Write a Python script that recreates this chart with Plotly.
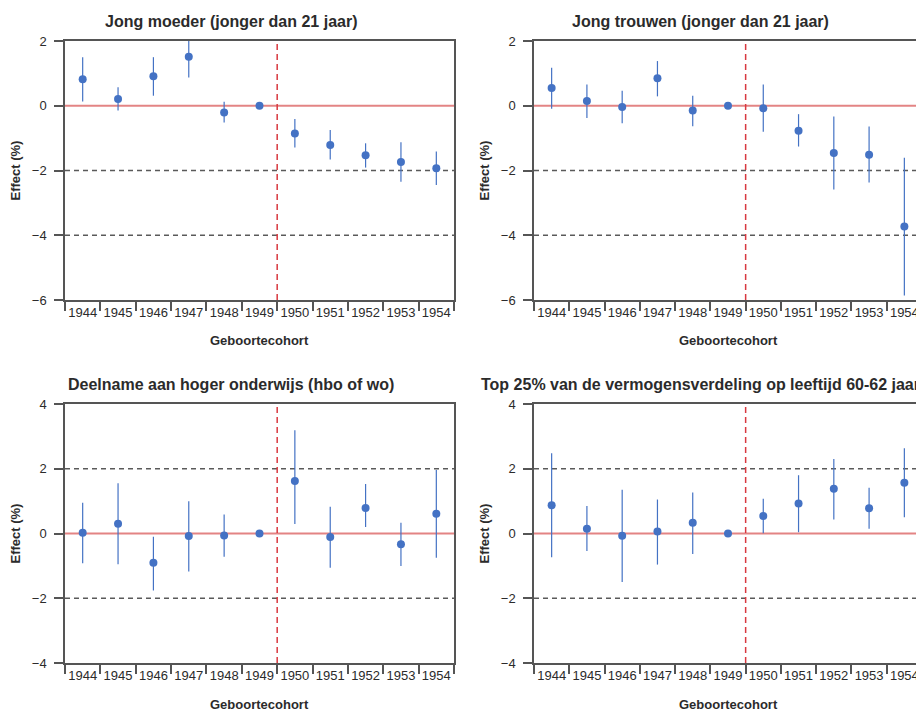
import plotly.graph_objects as go

# ---------------- data ----------------
cohorts = ["1944", "1945", "1946", "1947", "1948", "1949", "1950", "1951", "1952", "1953", "1954"]

titles = [
    "Jong moeder (jonger dan 21 jaar)",
    "Jong trouwen (jonger dan 21 jaar)",
    "Deelname aan hoger onderwijs (hbo of wo)",
    "Top 25% van de vermogensverdeling op leeftijd 60-62 jaar",
]

# Panel 1: Jong moeder
moeder_est = [0.82, 0.21, 0.91, 1.51, -0.21, 0.0, -0.86, -1.21, -1.53, -1.74, -1.93]
moeder_lo = [0.13, -0.15, 0.31, 0.87, -0.52, 0.0, -1.29, -1.66, -1.91, -2.35, -2.45]
moeder_hi = [1.50, 0.57, 1.50, 2.15, 0.12, 0.0, -0.41, -0.75, -1.16, -1.13, -1.41]

# Panel 2: Jong trouwen
trouwen_est = [0.55, 0.15, -0.04, 0.85, -0.15, 0.0, -0.08, -0.77, -1.46, -1.51, -3.73]
trouwen_lo = [-0.09, -0.38, -0.54, 0.29, -0.63, 0.0, -0.80, -1.26, -2.59, -2.37, -5.86]
trouwen_hi = [1.17, 0.66, 0.46, 1.38, 0.31, 0.0, 0.66, -0.26, -0.33, -0.64, -1.61]

# Panel 3: Hoger onderwijs
onderwijs_est = [0.02, 0.30, -0.90, -0.08, -0.06, 0.0, 1.62, -0.11, 0.79, -0.33, 0.61]
onderwijs_lo = [-0.92, -0.95, -1.76, -1.17, -0.72, 0.0, 0.29, -1.06, 0.20, -1.00, -0.75]
onderwijs_hi = [0.95, 1.55, -0.10, 1.00, 0.59, 0.0, 3.19, 0.83, 1.53, 0.33, 1.96]

# Panel 4: Vermogen top 25%
vermogen_est = [0.87, 0.15, -0.07, 0.06, 0.33, 0.0, 0.54, 0.93, 1.38, 0.78, 1.57]
vermogen_lo = [-0.73, -0.54, -1.50, -0.96, -0.63, 0.0, 0.01, 0.04, 0.43, 0.15, 0.50]
vermogen_hi = [2.48, 0.85, 1.35, 1.05, 1.27, 0.0, 1.07, 1.80, 2.30, 1.41, 2.63]

y_ranges = [[-6, 2], [-6, 2], [-4, 4], [-4, 4]]
y_ticks = [[-6, -4, -2, 0, 2], [-6, -4, -2, 0, 2], [-4, -2, 0, 2, 4], [-4, -2, 0, 2, 4]]
ref_lines = [[-2, -4], [-2, -4], [2, -2], [2, -2]]
reform_boundary = 5.5  # between 1949 and 1950

x_title = "Geboortecohort"
y_title = "Effect (%)"

panels = [
    (moeder_est, moeder_lo, moeder_hi),
    (trouwen_est, trouwen_lo, trouwen_hi),
    (onderwijs_est, onderwijs_lo, onderwijs_hi),
    (vermogen_est, vermogen_lo, vermogen_hi),
]

# ---------------- layout geometry (window pixels) ----------------
OFF = 8                      # default page body margin
W, H = 924 - OFF, 711 - OFF  # figure size so it fits the window exactly
boxes = [  # (left, right, top, bottom) in window pixels
    (65, 454, 41, 300),
    (534, 922, 41, 300),
    (65, 454, 404, 663),
    (534, 922, 404, 663),
]
title_pos = [(231, 21), (700, 21), (231, 384), (700, 384)]


def px(xw):
    return (xw - OFF) / W


def py(yw):
    return 1 - (yw - OFF) / H


BLUE = "#4472C4"
AXIS = "#555555"
TXT = "#2b2b2b"
FONT = "Liberation Sans, Arial, sans-serif"

fig = go.Figure()
shapes = []
annotations = []

for i, (est, lo, hi) in enumerate(panels):
    xa = "x" if i == 0 else f"x{i+1}"
    ya = "y" if i == 0 else f"y{i+1}"
    up = [h - e for h, e in zip(hi, est)]
    dn = [e - l for e, l in zip(est, lo)]
    fig.add_trace(go.Scatter(
        x=cohorts, y=est, mode="markers",
        marker=dict(color=BLUE, size=8),
        error_y=dict(type="data", symmetric=False, array=up, arrayminus=dn,
                     color=BLUE, thickness=1.2, width=0),
        xaxis=xa, yaxis=ya, showlegend=False, cliponaxis=False,
    ))

    l, r, t, b = boxes[i]
    xdom = [px(l), px(r)]
    ydom = [py(b), py(t)]
    axis_common = dict(showline=True, linecolor=AXIS, linewidth=1.5, mirror=True,
                       ticks="outside", ticklen=9, tickwidth=1.5, tickcolor=AXIS,
                       showgrid=False, zeroline=False, automargin=False,
                       tickfont=dict(family=FONT, size=13, color=TXT))
    fig.layout[("xaxis" if i == 0 else f"xaxis{i+1}")] = dict(
        domain=xdom, anchor=ya, type="category", tickson="boundaries", tickangle=0,
        range=[-0.5, len(cohorts) - 0.5], categoryorder="array", categoryarray=cohorts,
        **axis_common)
    fig.layout[("yaxis" if i == 0 else f"yaxis{i+1}")] = dict(
        domain=ydom, anchor=xa, range=y_ranges[i], tickvals=y_ticks[i],
        ticklabelstandoff=5, **axis_common)

    xref_dom = f"{xa} domain"
    # dashed reference lines
    for v in ref_lines[i]:
        shapes.append(dict(type="line", xref=xref_dom, yref=ya, x0=0, x1=1, y0=v, y1=v,
                           line=dict(color="#5a5a5a", width=1.5, dash="5px,4px"), layer="below"))
    # zero line
    shapes.append(dict(type="line", xref=xref_dom, yref=ya, x0=0, x1=1, y0=0, y1=0,
                       line=dict(color="#E38484", width=2), layer="below"))
    # reform boundary
    shapes.append(dict(type="line", xref=xa, yref=f"{ya} domain", x0=reform_boundary,
                       x1=reform_boundary, y0=0, y1=1,
                       line=dict(color="#D8383F", width=1.5, dash="6px,4px"), layer="below"))

    # titles
    tx, ty = title_pos[i]
    annotations.append(dict(text=f"<b>{titles[i]}</b>", xref="paper", yref="paper",
                            x=px(tx), y=py(ty), xanchor="center", yanchor="middle",
                            showarrow=False, font=dict(family=FONT, size=16, color=TXT)))
    annotations.append(dict(text=f"<b>{x_title}</b>", xref="paper", yref="paper",
                            x=px((l + r) / 2), y=py(b + 41), xanchor="center",
                            yanchor="middle", showarrow=False,
                            font=dict(family=FONT, size=13, color=TXT)))
    annotations.append(dict(text=f"<b>{y_title}</b>", xref="paper", yref="paper",
                            x=px(l - 50), y=py((t + b) / 2), xanchor="center",
                            yanchor="middle", showarrow=False, textangle=-90,
                            font=dict(family=FONT, size=13, color=TXT)))

fig.update_layout(
    template="none",
    width=W, height=H,
    margin=dict(l=0, r=0, t=0, b=0, autoexpand=False),
    paper_bgcolor="white", plot_bgcolor="white",
    shapes=shapes, annotations=annotations,
    font=dict(family=FONT, color=TXT),
)

fig.write_html("out.html")
